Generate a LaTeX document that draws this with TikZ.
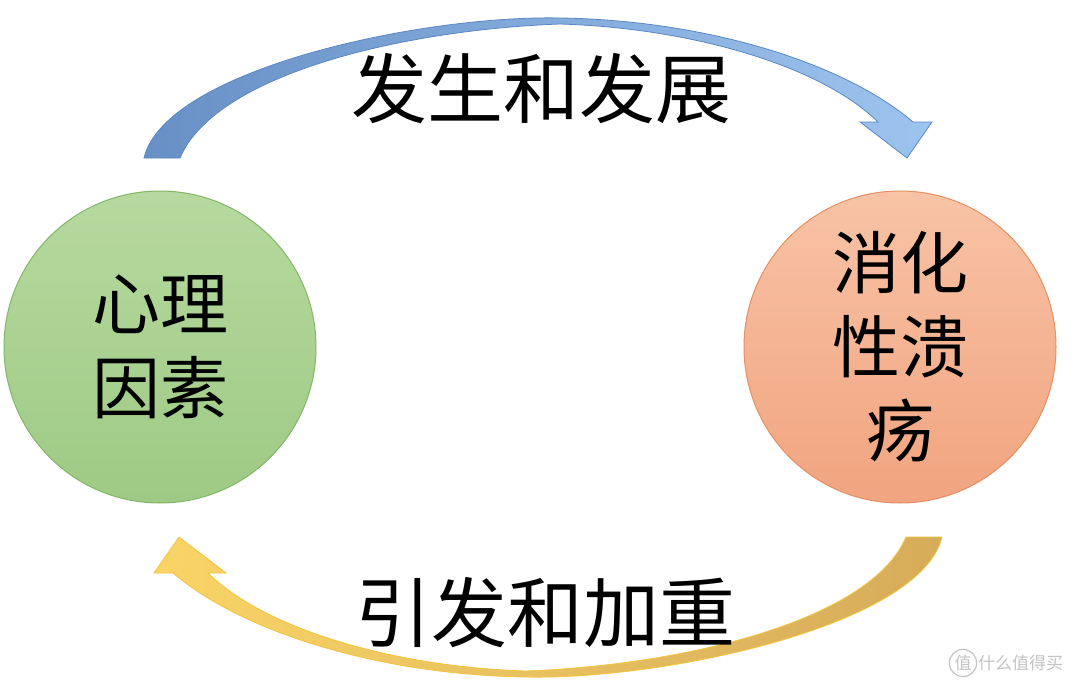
\documentclass[tikz,border=0pt]{standalone}
\usepackage{fontspec}
\newfontfamily\cjk{Noto Sans CJK SC}
\definecolor{gtop}{HTML}{B6D99F}
\definecolor{gbot}{HTML}{9ECA84}
\definecolor{gline}{HTML}{84B668}
\definecolor{otop}{HTML}{F8C3A6}
\definecolor{obot}{HTML}{F1A47F}
\definecolor{oline}{HTML}{E58F62}
\definecolor{btail}{HTML}{6890C6}
\definecolor{bhead}{HTML}{9DC4EE}
\definecolor{bline}{HTML}{5B87C5}
\definecolor{ytail}{HTML}{D6AC5A}
\definecolor{yhead}{HTML}{F9D466}
\definecolor{yline}{HTML}{F2C440}
\definecolor{wmgray}{HTML}{C4C4C4}
\begin{document}
\begin{tikzpicture}[x=1pt,y=-1pt,
  bubble/.style={circle, minimum size=312pt, inner sep=0pt, line width=1pt, align=center,
    font=\cjk\fontsize{68}{84}\selectfont},
  lbl/.style={inner sep=0pt, font=\cjk\fontsize{76}{80}\selectfont},
  wm/.style={text=wmgray, font=\cjk\fontsize{17}{17}\selectfont}]
\useasboundingbox (0,0) rectangle (1080,685);
\fill[white] (0,0) rectangle (1080,685);
% top blue curved arrow
\path[draw=bline, line width=0.8pt, left color=btail, right color=bhead]
  (144,158) .. controls (165,70) and (420,15) .. (560,18)
  .. controls (700,20) and (840,60) .. (913,122)
  -- (932,122) -- (907,158) -- (860,122) -- (878,122)
  .. controls (820,65) and (690,28) .. (560,24)
  .. controls (400,30) and (215,75) .. (180,158) -- cycle;
% bottom yellow curved arrow
\path[draw=yline, line width=0.8pt, left color=yhead, right color=ytail]
  (942,537) .. controls (921,625) and (666,680) .. (526,677)
  .. controls (386,675) and (246,635) .. (173,573)
  -- (154,573) -- (179,537) -- (226,573) -- (208,573)
  .. controls (266,630) and (396,667) .. (526,671)
  .. controls (686,665) and (871,620) .. (906,537) -- cycle;
% circles
\node[bubble, draw=gline, top color=gtop, bottom color=gbot] (L) at (160,347) {心理\\因素};
\node[bubble, draw=oline, top color=otop, bottom color=obot] (R) at (900,347) {消化\\性溃\\疡};
% labels
\node[lbl] (top) at (541,89) {发生和发展};
\node[lbl] (bot) at (545,613) {引发和加重};
% watermark
\node[wm, circle, draw=wmgray, line width=1.2pt, inner sep=1.5pt] (wmi) at (963,663) {值};
\node[wm, anchor=west, inner sep=0pt] (wmt) at (978,663) {什么值得买};
\end{tikzpicture}
\end{document}
